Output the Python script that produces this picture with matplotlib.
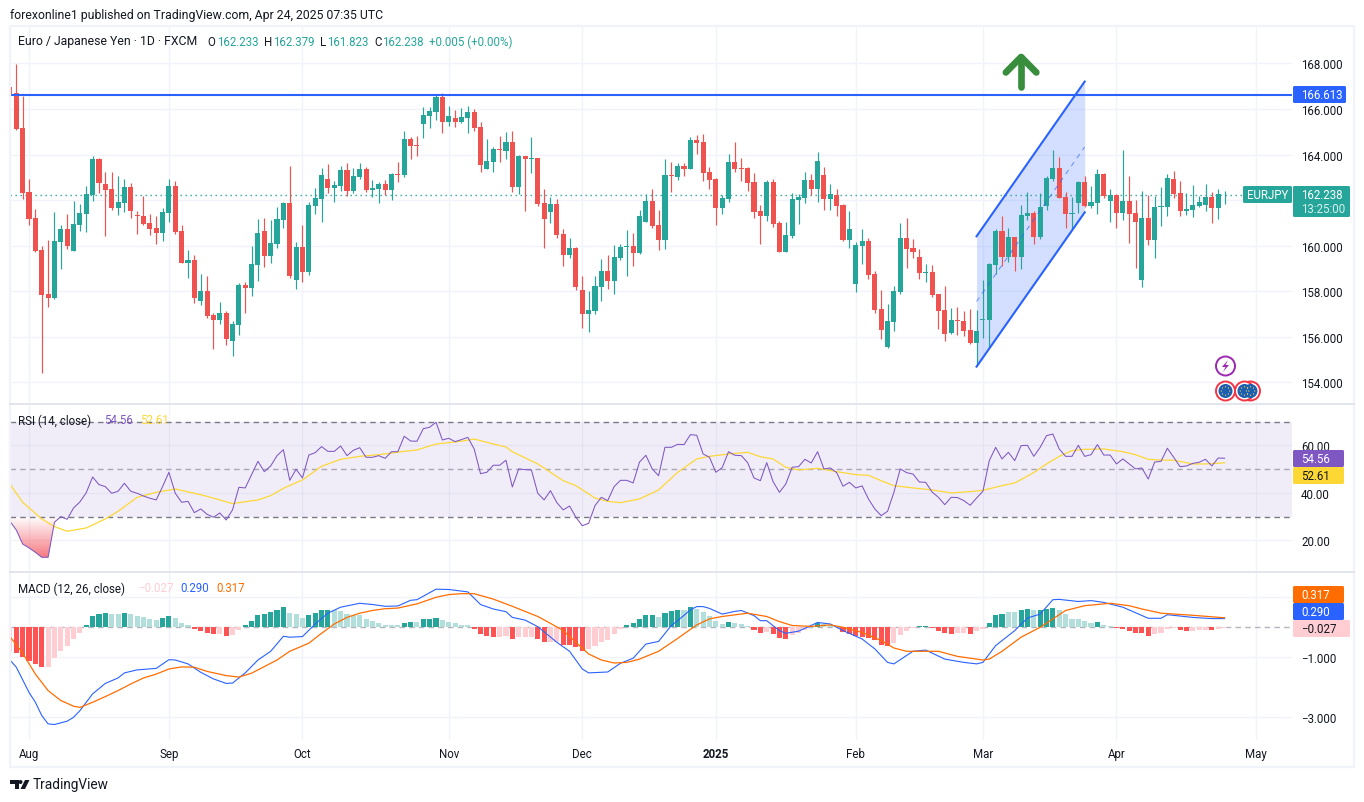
import numpy as np
import matplotlib
matplotlib.use("Agg")
import matplotlib.pyplot as plt
from matplotlib.patches import Rectangle, Circle, Polygon, PathPatch, FancyBboxPatch

W, H = 1364, 803
FONT = "Roboto"
plt.rcParams["font.family"] = [FONT, "DejaVu Sans"]

# ---------- Candle data (first entry is the half hidden candle at the left edge) ----------
highs = [166.96,
 167.97,166.57,162.93,161.61,159.99,160.25,161.48,160.91,161.39,161.96,
 161.83,162.62,163.93,163.85,163.23,163.23,163.06,162.93,162.75,161.52,
 162.18,161.39,161.30,161.65,162.93,162.84,160.91,159.81,159.59,158.76,
 158.67,157.04,157.53,157.13,156.69,158.36,158.40,159.99,161.17,161.21,
 161.13,161.70,161.92,163.50,160.16,160.91,161.92,162.53,163.41,163.58,
 162.84,163.50,163.63,163.41,163.63,163.45,162.88,162.79,162.88,163.19,
 163.67,165.03,164.77,164.81,166.08,166.08,166.66,166.70,166.13,165.95,
 166.04,166.13,166.00,165.43,164.68,164.33,164.81,164.99,165.03,163.98,
 163.93,164.77,163.85,162.49,162.14,162.05,160.73,160.34,159.94,158.67,
 158.01,158.67,159.41,159.59,160.03,160.07,160.69,160.56,161.56,162.27,
 162.49,161.56,163.80,163.67,163.63,163.63,164.77,164.86,164.90,163.45,
 162.97,162.22,164.02,164.55,163.85,163.45,163.19,161.78,162.88,162.93,
 161.08,161.04,162.31,162.27,163.23,163.14,164.11,163.45,162.71,162.49,
 161.83,161.52,160.16,160.73,160.34,158.89,158.05,157.44,158.23,160.99,
 161.21,160.29,159.85,159.20,159.15,157.88,158.23,157.26,157.31,157.13,
 157.22,157.18,158.49,159.24,160.73,161.30,160.77,160.38,161.78,162.36,
 161.52,162.31,163.06,164.20,163.89,162.36,162.14,162.84,163.06,162.62,
 163.36,163.19,162.49,162.27,164.20,163.06,162.00,162.40,162.22,162.18,
 162.57,163.14,163.28,162.84,162.31,162.66,162.18,162.71,162.36,162.49,162.379]
body_tops = [166.96,
 166.70,165.16,162.36,161.21,159.81,157.88,160.20,160.73,160.73,160.95,
 161.43,162.27,163.80,163.80,162.71,162.49,161.92,162.57,162.57,161.36,
 161.30,160.99,160.77,161.48,162.62,162.62,160.64,159.37,159.37,158.01,
 158.01,156.96,157.04,157.04,156.56,158.27,158.27,159.20,160.56,160.64,
 160.12,161.17,161.87,161.87,159.94,159.94,161.78,162.09,163.10,162.93,
 162.66,163.32,163.32,163.06,163.36,163.36,162.53,162.71,162.71,163.14,
 163.14,164.68,164.68,164.42,165.73,165.91,166.52,166.52,165.69,165.60,
 165.65,165.87,165.87,165.21,163.71,164.24,164.24,164.55,164.55,163.93,
 163.93,163.85,163.85,161.87,161.83,161.83,160.51,159.90,159.90,158.05,
 157.18,158.23,158.89,158.89,159.50,159.94,159.99,159.99,161.30,161.96,
 161.96,160.91,163.10,163.10,163.50,163.50,164.64,164.64,164.55,163.23,
 162.93,162.09,163.67,163.67,163.41,163.41,162.79,161.52,162.79,162.79,
 160.99,160.47,162.05,162.14,162.88,162.88,163.71,163.10,162.25,162.24,
 161.78,160.73,160.03,160.20,160.20,158.76,157.22,156.69,158.01,160.34,
 160.34,159.90,159.50,158.84,158.84,157.88,157.18,156.74,156.74,156.69,
 156.30,156.25,156.78,159.20,160.64,160.64,160.38,160.38,161.35,161.43,
 161.43,161.70,162.97,163.41,163.41,162.14,161.43,162.79,162.79,161.92,
 163.14,163.14,162.22,162.22,161.96,161.96,161.43,161.21,161.21,161.70,
 161.74,162.97,162.93,162.31,161.61,161.78,161.92,162.14,162.14,162.27,162.238]
body_bottoms = [166.66,
 165.12,162.31,161.17,159.77,157.83,157.70,157.70,160.16,159.99,159.77,
 160.91,161.39,162.22,162.75,162.44,161.65,161.65,161.87,161.52,161.32,
 160.95,160.73,160.56,160.56,161.43,160.60,159.24,159.24,157.70,157.57,
 156.91,156.74,156.74,155.90,155.81,156.52,158.14,158.14,159.15,159.55,
 159.55,160.07,161.13,158.67,158.49,158.84,158.84,161.74,162.05,162.53,
 162.53,162.62,162.40,162.40,163.01,162.44,162.44,162.49,162.44,162.44,
 163.10,163.10,164.37,164.37,165.34,165.69,165.87,165.43,165.43,165.43,
 165.43,165.60,165.16,163.54,163.36,163.67,164.20,164.15,162.57,162.57,
 163.80,163.80,161.83,161.17,161.48,160.47,159.59,159.59,158.19,157.00,
 157.00,157.13,158.19,158.45,158.45,159.46,159.94,159.68,159.68,161.04,
 160.86,160.25,160.25,163.06,163.01,163.36,163.36,164.50,163.19,162.88,
 161.65,161.65,162.05,163.36,163.36,162.75,161.48,161.30,161.30,160.95,
 159.72,159.72,160.42,162.00,162.09,162.49,162.49,162.05,162.05,161.74,
 160.25,160.25,158.32,159.99,158.71,157.18,156.30,155.55,156.65,157.97,
 159.85,159.72,158.80,158.80,157.83,157.13,156.12,156.17,156.69,156.25,
 155.73,155.73,156.74,156.74,159.15,159.50,159.50,159.50,159.50,161.30,
 160.38,160.38,161.74,162.93,162.09,161.39,161.39,161.87,161.74,161.74,
 161.87,162.18,161.96,161.43,161.43,161.39,161.04,158.49,160.25,160.25,
 161.70,161.70,162.27,161.52,161.52,161.56,161.74,161.78,161.65,161.65,162.233]
lows = [166.66,
 165.08,162.05,160.91,159.72,154.41,157.31,157.66,158.98,159.85,159.77,
 160.64,160.60,161.96,162.31,160.42,161.56,161.35,161.48,161.21,160.51,
 160.91,160.47,160.07,160.20,161.04,160.51,159.24,158.58,157.48,157.40,
 156.82,155.47,156.56,155.64,155.16,156.08,157.04,157.79,158.45,159.06,
 159.24,159.90,160.77,158.58,158.10,158.40,158.71,161.39,161.04,162.31,
 161.92,162.40,162.18,162.31,162.93,162.36,162.14,161.87,162.22,162.00,
 162.79,163.01,163.80,163.93,164.72,165.16,165.51,164.94,165.25,165.21,
 165.38,164.94,165.03,163.23,163.36,163.23,163.67,163.80,162.36,162.27,
 161.52,163.19,161.74,159.90,160.99,160.34,159.11,159.46,158.05,156.39,
 156.21,157.00,157.57,158.10,157.88,159.37,158.67,159.11,159.63,161.04,
 160.77,159.81,159.85,162.36,162.88,163.06,163.36,164.02,162.84,162.49,
 160.91,161.39,161.92,163.23,162.84,162.40,161.21,160.07,161.08,160.82,
 159.72,159.72,160.34,160.95,161.87,162.22,161.92,161.56,161.56,161.30,
 160.20,159.90,157.97,159.20,158.54,157.04,155.90,155.51,156.25,157.88,
 159.02,159.46,158.54,158.40,157.75,156.34,155.81,156.12,156.08,156.04,
 155.68,154.76,155.95,155.55,158.76,159.11,159.28,158.89,158.98,161.13,
 160.07,160.29,161.56,162.84,162.09,160.77,160.73,161.43,161.70,161.65,
 161.39,162.09,161.04,160.77,161.13,160.12,159.02,158.19,160.03,159.46,
 160.86,161.30,162.09,161.30,161.35,161.26,161.70,161.52,160.99,161.17,161.823]
directions = ("d"
 "dddddduudu" "uuuddduudd" "ddduuddudu" "dduduuduud" "uuududuuud"
 "uuduuduudu" "dudduuudud" "uudduududu" "dudduddudd" "uuuduuuduu"
 "ddudududdd" "duudddddud" "duuuududud" "duuuddduuu" "dddudddudd"
 "duuuududuu" "duuudduudu" "udududdudu" "uudduuuuduu")

# ---------- RSI ----------
rsi_values = [28.0,
 24.35,18.45,16.8,14.95,12.85,12.85,27.6,30.0,28.85,33.6,
 36.15,40.05,46.65,43.45,42.6,39.8,40.65,44.0,40.65,39.8,
 38.65,37.7,37.0,42.6,48.65,39.8,36.0,36.4,31.65,33.2,
 30.95,29.7,31.5,28.55,32.8,42.3,42.05,47.65,53.25,48.9,
 51.3,55.65,58.15,45.25,49.9,46.25,55.9,56.9,59.45,57.45,
 57.45,59.7,55.65,57.9,59.0,54.95,54.95,55.65,54.5,57.3,
 57.3,63.8,61.8,61.7,67.0,67.6,69.7,62.25,62.95,61.55,
 62.4,63.35,58.45,48.05,48.65,51.6,51.6,53.7,42.45,50.05,
 49.75,49.6,39.8,37.0,40.9,35.85,32.8,34.45,29.7,26.15,
 27.15,34.6,38.1,36.7,42.6,45.25,45.25,44.15,52.95,55.8,
 50.05,47.2,59.15,59.15,60.4,60.3,64.5,64.2,56.35,54.95,
 48.65,50.6,57.3,55.8,55.65,52.7,46.25,45.1,52.7,44.7,
 40.2,43.7,50.75,51.0,54.1,52.55,57.3,50.05,50.45,48.5,
 42.75,44.4,42.05,42.9,37.4,33.2,30.4,32.2,40.2,50.05,
 48.5,47.9,44.55,44.4,40.35,38.1,35.0,38.1,38.0,36.7,
 34.75,37.8,40.65,53.55,59.15,54.25,57.05,53.55,59.85,60.0,
 55.35,59.15,64.05,64.75,58.45,55.35,55.35,60.0,55.35,56.05,
 60.3,55.9,55.9,52.15,54.25,52.15,50.05,50.45,45.8,52.95,
 53.25,58.75,54.95,51.0,51.3,52.4,52.85,54.1,51.3,54.65,54.56]
rsi_ma_idx = [-1,1,4,6,8,11,14,16,19,22,25,28,30,34,38,40,42,45,48,51,54,57,61,63,66,70,72,75,77,78,
 82,86,88,91,93,95,98,101,104,107,109,112,115,117,119,121,123,126,129,132,134,136,138,141,144,147,
 150,152,155,157,160,162,164,166,168,171,174,176,178,180,182,185,187,190]
rsi_ma_values = [43.7,36.0,29.0,25.75,23.8,25.2,29.0,32.2,38.1,40.2,41.6,39.8,38.5,35.45,37.0,38.8,41.9,
 45.4,51.15,54.1,55.35,56.05,57.45,58.05,60.55,61.7,62.65,60.55,59.3,57.3,52.15,45.1,43.0,37.8,36.4,
 35.85,37.4,41.2,48.65,54.25,55.35,56.35,57.05,55.2,54.25,50.75,49.6,50.3,48.9,47.65,47.35,45.1,43.0,
 42.05,41.2,39.95,40.5,41.05,43.0,44.15,48.5,52.15,55.35,57.75,58.3,58.45,57.3,56.05,54.1,53.8,53.7,
 52.15,52.15,52.61]

# ---------- MACD ----------
hist_values = [-0.81,
 -0.86,-1.00,-1.13,-1.24,-1.32,-1.32,-1.04,-0.79,-0.61,-0.39,
 -0.19,0.08,0.37,0.44,0.47,0.44,0.44,0.48,0.44,0.37,
 0.33,0.27,0.24,0.31,0.38,0.30,0.14,0.08,-0.07,-0.13,
 -0.20,-0.24,-0.24,-0.29,-0.26,-0.08,0.08,0.22,0.41,0.43,
 0.50,0.56,0.68,0.48,0.43,0.31,0.41,0.47,0.58,0.58,
 0.58,0.53,0.44,0.40,0.42,0.28,0.22,0.14,0.08,0.08,
 0.08,0.14,0.19,0.17,0.28,0.29,0.31,0.24,0.19,0.13,
 0.08,0.06,-0.06,-0.22,-0.29,-0.31,-0.31,-0.30,-0.39,-0.33,
 -0.33,-0.33,-0.39,-0.49,-0.48,-0.49,-0.58,-0.59,-0.66,-0.78,
 -0.74,-0.61,-0.49,-0.41,-0.22,-0.06,0.08,0.13,0.27,0.41,
 0.41,0.33,0.48,0.54,0.58,0.59,0.66,0.62,0.52,0.38,
 0.22,0.11,0.16,0.13,0.11,0.04,-0.08,-0.19,-0.16,-0.22,
 -0.36,-0.39,-0.26,-0.19,-0.09,0.01,0.13,0.11,0.08,0.02,
 -0.16,-0.22,-0.29,-0.31,-0.36,-0.44,-0.58,-0.63,-0.52,-0.26,
 -0.12,-0.01,0.04,0.04,-0.03,-0.12,-0.19,-0.22,-0.19,-0.19,
 -0.22,-0.14,-0.06,0.14,0.40,0.44,0.51,0.51,0.58,0.61,
 0.56,0.56,0.61,0.64,0.56,0.44,0.28,0.28,0.21,0.14,
 0.18,0.08,0.04,-0.03,-0.07,-0.13,-0.18,-0.20,-0.29,-0.23,
 -0.18,-0.07,-0.04,-0.09,-0.12,-0.11,-0.09,-0.08,-0.08,-0.06,-0.027]
hist_strength = ("p"
 "dddddppppp" "pddddppdpp" "pppddpppdd" "ddpdppdddd" "dddpppdddd"
 "pppppppppp" "pddpdddppp" "ppddddppdp" "ppddppdddd" "ppppppdddd"
 "dpdddpdppp" "ppdpppddpd" "ddppppdppp" "ddddddddpp" "ppddddddpp"
 "dppdddppdd" "pdddpppppp" "dppddddddp" "pppddpppdpp")
macd_idx = [-1,0,2,3,4,5,6,8,9,10,12,14,16,17,19,22,24,25,27,29,31,33,34,36,38,40,42,43,45,47,49,51,54,56,58,
 60,62,63,66,68,71,73,75,77,78,80,82,85,87,89,90,93,95,97,99,101,103,104,106,107,108,109,111,113,114,116,
 117,118,120,121,123,126,128,130,133,135,137,138,140,141,143,146,149,151,152,154,157,159,161,163,164,167,
 169,171,174,178,180,181,185,188,190]
macd_values = [-1.09,-1.33,-2.17,-2.50,-2.94,-3.22,-3.24,-3.13,-3.00,-2.78,-2.22,-1.87,-1.69,-1.52,-1.42,-1.37,
 -1.08,-1.09,-1.22,-1.50,-1.72,-1.87,-1.86,-1.52,-1.09,-0.80,-0.30,-0.33,-0.31,0.11,0.47,0.67,0.80,0.76,0.70,
 0.71,0.90,0.92,1.27,1.26,1.18,0.76,0.61,0.52,0.33,0.24,0.02,-0.50,-0.80,-1.39,-1.52,-1.49,-1.20,-1.03,-0.56,
 -0.47,0.06,0.22,0.58,0.69,0.69,0.63,0.44,0.53,0.56,0.39,0.22,0.22,-0.11,-0.20,-0.13,0.16,0.11,-0.11,-0.39,
 -0.72,-1.17,-1.22,-0.94,-0.80,-0.76,-1.06,-1.17,-1.22,-1.17,-0.61,-0.11,0.31,0.44,0.92,0.93,0.86,0.89,0.83,
 0.67,0.30,0.30,0.42,0.33,0.29,0.290]
signal_idx = [-1,1,3,5,7,9,10,12,14,16,18,20,22,24,26,28,30,33,35,37,39,41,43,46,48,50,52,54,56,58,60,63,66,68,
 70,72,75,78,82,84,86,88,90,92,94,96,98,101,104,107,109,111,115,118,120,122,125,128,130,133,136,138,140,143,
 145,148,152,153,155,158,161,163,165,168,172,175,177,180,185,190]
signal_values = [-0.31,-0.86,-1.56,-2.11,-2.44,-2.63,-2.67,-2.50,-2.31,-2.11,-1.89,-1.69,-1.56,-1.39,-1.32,-1.33,
 -1.47,-1.61,-1.66,-1.53,-1.31,-1.09,-0.80,-0.53,-0.20,0.11,0.33,0.47,0.56,0.62,0.64,0.78,1.00,1.09,1.12,1.12,
 0.94,0.70,0.36,0.13,-0.11,-0.50,-0.89,-1.09,-1.19,-1.17,-1.06,-0.80,-0.37,0.08,0.28,0.36,0.47,0.36,0.19,0.06,
 0.03,0.08,0.00,-0.17,-0.44,-0.69,-0.80,-0.80,-0.80,-0.97,-1.09,-1.06,-0.80,-0.33,0.00,0.28,0.56,0.72,0.80,0.72,
 0.61,0.47,0.40,0.317]

# ---------- Annotations and axis content ----------
resistance_price = 166.613
last_price = 162.238
channel_idx = [151, 168]
channel_lower = [154.69, 161.46]
channel_upper = [160.41, 167.20]
arrow_idx = [155.6, 158, 160.4]
arrow_head_price = [167.60, 168.28, 167.60]
arrow_tail_price = 166.98
price_ticks = [154, 156, 158, 160, 162, 164, 166, 168]
price_hidden_ticks = [162]      # covered by the last-price label in the reference
rsi_ticks = [20, 40, 60]
macd_ticks = [-3, -1, 1]
macd_hidden_ticks = [1]         # covered by the MACD value labels in the reference
month_idx = [2, 24, 45, 68, 89, 110, 132, 152, 173, 195]
month_labels = ["Aug", "Sep", "Oct", "Nov", "Dec", "2025", "Feb", "Mar", "Apr", "May"]

UP, DOWN = "#26a69a", "#ef5350"
BLUE = "#2962ff"
GRID = "#f0f3fa"
TXT = "#131722"
SIZE = 8.3
idx = np.arange(-1, 191)
highs, lows = np.array(highs), np.array(lows)
body_tops, body_bottoms = np.array(body_tops), np.array(body_bottoms)
is_up = np.array([c == "u" for c in directions])
hist_values = np.array(hist_values)
is_dark = np.array([c == "d" for c in hist_strength])
rsi_values = np.array(rsi_values)

fig = plt.figure(figsize=(W / 100, H / 100), dpi=100, facecolor="white")

def pane(top, bottom):
    ax = fig.add_axes([10 / W, 1 - bottom / H, (1292 - 10) / W, (bottom - top) / H])
    ax.set_xlim(-0.99, 200.6)
    for s in ax.spines.values():
        s.set_visible(False)
    ax.set_xticks(month_idx)
    ax.set_xticklabels([])
    ax.tick_params(axis="both", length=0, labelsize=SIZE, labelcolor=TXT)
    ax.yaxis.tick_right()
    ax.tick_params(axis="y", pad=6.5)
    ax.grid(True, color=GRID, lw=1.0)
    ax.set_axisbelow(True)
    return ax

# ---------- Price pane ----------
ax = pane(27, 405)
ax.set_ylim(153.05, 169.64)
ax.set_yticks(price_ticks)
ax.set_yticklabels(["" if p in price_hidden_ticks else f"{p:.3f}" for p in price_ticks])
ax.fill_between(channel_idx, channel_lower, channel_upper, color=BLUE, alpha=0.2, lw=0, zorder=2)
colors = np.where(is_up, UP, DOWN)
ax.axhline(last_price, color=UP, lw=1.0, ls=(0, (1, 2.6)), zorder=2.5)
ax.vlines(idx, lows, highs, colors=colors, lw=0.85, zorder=3)
ax.bar(idx, body_tops - body_bottoms, bottom=body_bottoms, width=0.8, color=colors, lw=0, zorder=3.1)
ax.axhline(resistance_price, color=BLUE, lw=1.5, zorder=4)
ax.plot(channel_idx, channel_lower, color=BLUE, lw=1.5, zorder=4)
ax.plot(channel_idx, channel_upper, color=BLUE, lw=1.5, zorder=4)
ax.plot(channel_idx, (np.array(channel_lower) + np.array(channel_upper)) / 2, color=BLUE, lw=0.7,
        ls=(0, (5, 5)), alpha=0.7, zorder=4)
ax.plot(arrow_idx, arrow_head_price, color="#388e3c", lw=4.8, solid_capstyle="round", solid_joinstyle="round", zorder=5)
ax.plot([arrow_idx[1], arrow_idx[1]], [arrow_head_price[1], arrow_tail_price], color="#388e3c", lw=4.8,
        solid_capstyle="round", zorder=5)

# ---------- RSI pane ----------
ar = pane(405, 573)
ar.set_ylim(6.65, 77.39)
ar.set_yticks(rsi_ticks)
ar.set_yticklabels([f"{v:.2f}" for v in rsi_ticks])
ar.axhspan(30, 70, color="#7e57c2", alpha=0.1, lw=0, zorder=1)
for level, col in ((70, "#787b86"), (30, "#787b86"), (50, "#a9a6b8")):
    ar.axhline(level, color=col, lw=1.0, ls=(0, (4, 3)), zorder=2)
n_low = 9
low_fill = ar.fill_between(idx[:n_low], rsi_values[:n_low], 30, where=rsi_values[:n_low] <= 30,
                           facecolor="none", edgecolor="none", interpolate=True)
grad = np.zeros((64, 1, 4))
grad[..., 0], grad[..., 1], grad[..., 2] = 0.96, 0.36, 0.40
grad[:, 0, 3] = np.linspace(0.0, 0.85, 64)
im = ar.imshow(grad, extent=(-1, 8, 12, 30), origin="upper", aspect="auto", zorder=2.2, interpolation="bilinear")
im.set_clip_path(PathPatch(low_fill.get_paths()[0], transform=ar.transData))
ar.set_xlim(-0.99, 200.6)
ar.set_ylim(6.65, 77.39)
ar.plot(rsi_ma_idx, rsi_ma_values, color="#fdd835", lw=0.9, zorder=3)
ar.plot(idx, rsi_values, color="#7e57c2", lw=0.75, zorder=4)

# ---------- MACD pane ----------
am = pane(573, 741)
am.set_ylim(-3.757, 1.843)
am.set_yticks(macd_ticks)
am.set_yticklabels(["" if v in macd_hidden_ticks else ("\u2212" if v < 0 else "") + f"{abs(v):.3f}" for v in macd_ticks])
hist_colors = [("#26a69a" if d else "#b2dfdb") if v >= 0 else ("#ff5252" if d else "#ffcdd2")
               for v, d in zip(hist_values, is_dark)]
am.axhline(0, color="#b2b5be", lw=1.0, ls=(0, (4, 3)), zorder=2)
am.bar(idx, hist_values, width=0.8, color=hist_colors, lw=0, zorder=3)
am.plot(macd_idx, macd_values, color=BLUE, lw=0.8, zorder=4)
am.plot(signal_idx, signal_values, color="#ff6d00", lw=0.9, zorder=5)
am.set_xticklabels(month_labels)
am.tick_params(axis="x", pad=5.3, labelsize=SIZE)
for lab in am.get_xticklabels():
    if lab.get_text() == "2025":
        lab.set_fontweight("bold")

# ---------- Overlay in pixel coordinates: frame, labels, icons ----------
ov = fig.add_axes([0, 0, 1, 1], zorder=10)
ov.set_xlim(0, W)
ov.set_ylim(H, 0)
ov.axis("off")
ov.patch.set_alpha(0)

def txt(x, y, s, color=TXT, size=SIZE, ha="left", **kw):
    ov.text(x, y, s, color=color, fontsize=size, ha=ha, va="center", **kw)

def box(x0, y0, x1, y1, color):
    ov.add_patch(FancyBboxPatch((x0 + 1, y0 + 1), x1 - x0 - 2, y1 - y0 - 2, boxstyle="round,pad=1,rounding_size=1.5",
                                facecolor=color, edgecolor="none"))

ov.add_patch(Rectangle((10, 27), 1344, 741, fill=False, edgecolor=GRID, lw=1.6))
ov.plot([10, 1354], [405, 405], color="#e0e3eb", lw=1.3)
ov.plot([10, 1354], [573, 573], color="#e0e3eb", lw=1.3)

txt(10, 15, "forexonline1 published on TradingView.com, Apr 24, 2025 07:35 UTC", size=8.8)
txt(18, 42, "Euro / Japanese Yen \u00b7 1D \u00b7 FXCM", size=8.8)
for x, s in ((207, "O"), (264, "H"), (320, "L"), (374, "C")):
    txt(x, 42, s)
for x, s in ((217, "162.233"), (273, "162.379"), (327, "161.823"), (382, "162.238"), (429, "+0.005 (+0.00%)")):
    txt(x, 42, s, color=UP)

txt(18, 421, "RSI (14, close)")
txt(104, 421, "54.56", color="#7e57c2")
txt(140, 421, "52.61", color="#fdd835")
txt(18, 589, "MACD (12, 26, close)")
txt(138, 589, "\u22120.027", color="#ffcdd2")
txt(180, 589, "0.290", color=BLUE)
txt(216, 589, "0.317", color="#ff6d00")

box(1293, 87, 1346, 104, BLUE)
txt(1301, 95.5, "166.613", color="white")
box(1243, 187, 1292, 204, UP)
txt(1267.5, 195.5, "EURJPY", color="white", ha="center")
box(1293, 187, 1350, 218, UP)
txt(1301, 195.5, "162.238", color="white")
txt(1301, 209.5, "13:25:00", color="#d8f0ee")

box(1293, 451, 1344, 468, "#7e57c2")
txt(1301, 459.5, "54.56", color="white")
box(1293, 468, 1344, 485, "#fdd835")
txt(1301, 476.5, "52.61")

box(1293, 587, 1344, 604, "#ff6d00")
txt(1301, 595.5, "0.317", color="white")
box(1293, 604, 1344, 621, BLUE)
txt(1301, 612.5, "0.290", color="white")
box(1293, 621, 1350, 638, "#ffcdd2")
txt(1301, 629.5, "\u22120.027")

# event icons
ov.add_patch(Circle((1225.5, 367), 9.5, facecolor="white", edgecolor="#9c27b0", lw=1.4))
ov.add_patch(Polygon([(1228, 361), (1222, 368), (1225.5, 368), (1223, 373), (1229, 366), (1225.5, 366)],
                     facecolor="#9c27b0", edgecolor="none"))
for cx in (1250.5, 1244.5, 1225.5):
    ov.add_patch(Circle((cx, 392), 9.5, facecolor="white", edgecolor="#f23645", lw=1.4, zorder=3))
    ov.add_patch(Circle((cx, 392), 7.0, facecolor="#1c5fb0", edgecolor="none", zorder=3.1))
    for a in np.deg2rad(np.arange(0, 360, 45)):
        ov.add_patch(Circle((cx + 4.2 * np.cos(a), 392 + 4.2 * np.sin(a)), 0.6, facecolor="#ffd54f",
                            edgecolor="none", zorder=3.2))

# TradingView logo
ov.add_patch(Polygon([(10, 781), (19, 781), (19, 790), (14.5, 790), (14.5, 785), (10, 785)],
                     facecolor="#131722", edgecolor="none"))
ov.add_patch(Circle((20.5, 783), 2.0, facecolor="#131722", edgecolor="none"))
ov.add_patch(Polygon([(25, 781), (29.5, 781), (25, 790), (20.5, 790)], facecolor="#131722", edgecolor="none"))
txt(33, 785.5, "TradingView", size=9.8)

fig.savefig("out.png", dpi=100, facecolor="white")
